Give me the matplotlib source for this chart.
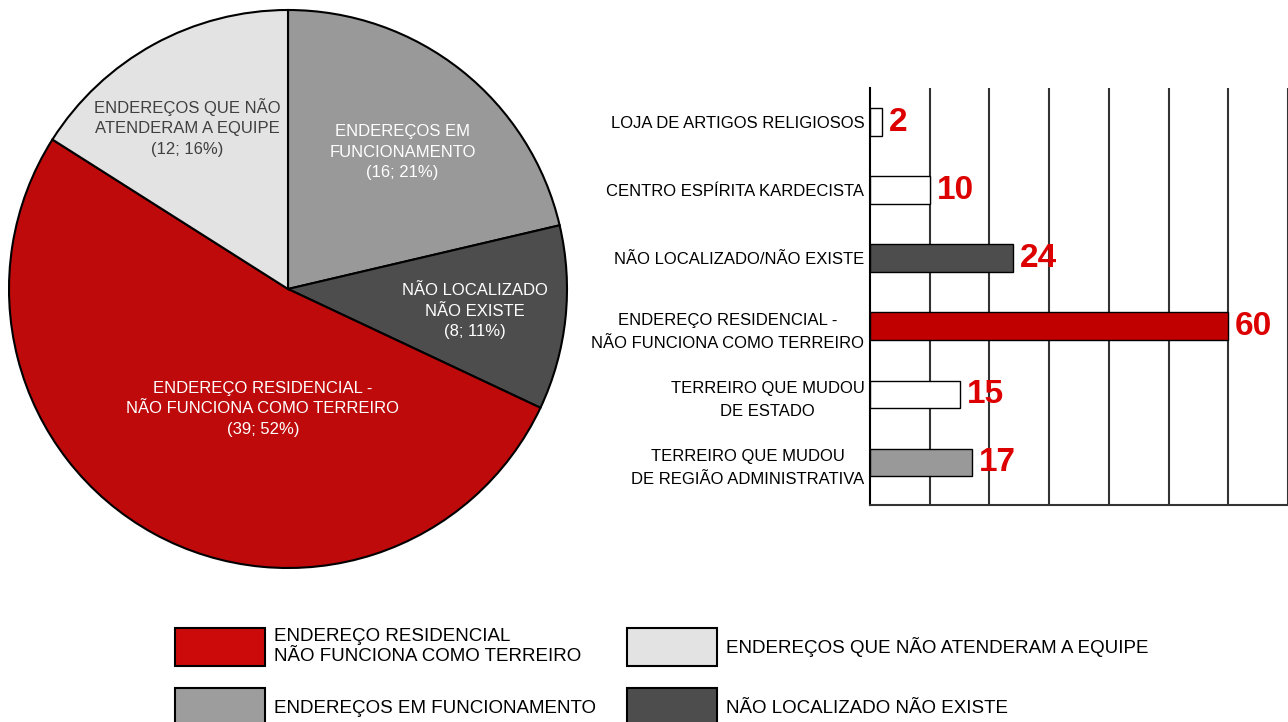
import matplotlib
matplotlib.use("Agg")
import matplotlib.pyplot as plt
from matplotlib.patches import Patch

# pie data (clockwise from the top)
pie_labels = ["ENDEREÇOS EM\nFUNCIONAMENTO", "NÃO LOCALIZADO\nNÃO EXISTE",
              "ENDEREÇO RESIDENCIAL -\nNÃO FUNCIONA COMO TERREIRO",
              "ENDEREÇOS QUE NÃO\nATENDERAM A EQUIPE"]
pie_values = [16, 8, 39, 12]
pie_colors = ["#999999", "#4d4d4d", "#be0a0a", "#e3e3e3"]
pie_text_colors = ["white", "white", "white", "#404040"]
pie_text_pos = [(0.41, 0.49), (0.67, -0.08), (-0.09, -0.43), (-0.36, 0.58)]

legend_labels = ["ENDEREÇO RESIDENCIAL\nNÃO FUNCIONA COMO TERREIRO",
                 "ENDEREÇOS EM FUNCIONAMENTO",
                 "ENDEREÇOS QUE NÃO ATENDERAM A EQUIPE",
                 "NÃO LOCALIZADO NÃO EXISTE"]
legend_colors = ["#cc0a0a", "#9d9d9d", "#e3e3e3", "#4d4d4d"]

# bar data (top to bottom)
bar_labels = ["LOJA DE ARTIGOS RELIGIOSOS", "CENTRO ESPÍRITA KARDECISTA",
              "NÃO LOCALIZADO/NÃO EXISTE",
              "ENDEREÇO RESIDENCIAL -\nNÃO FUNCIONA COMO TERREIRO",
              "TERREIRO QUE MUDOU\nDE ESTADO",
              "TERREIRO QUE MUDOU\nDE REGIÃO ADMINISTRATIVA"]
bar_values = [2, 10, 24, 60, 15, 17]
bar_colors = ["white", "white", "#4d4d4d", "#c00000", "white", "#999999"]

regular = ["Liberation Sans", "DejaVu Sans"]

fig = plt.figure(figsize=(12.88, 7.22), dpi=100)

# ---- pie ----
ax_pie = fig.add_axes([9 / 1288, 154 / 722, 558 / 1288, 558 / 722])
wedges, _ = ax_pie.pie(pie_values, colors=pie_colors, startangle=90, counterclock=False,
                       wedgeprops=dict(edgecolor="black", linewidth=1.5))
for w in wedges:
    w.set_clip_on(False)
ax_pie.set_xlim(-1, 1)
ax_pie.set_ylim(-1, 1)
ax_pie.set_aspect("equal")
total = sum(pie_values)
for lab, v, (tx, ty), c in zip(pie_labels, pie_values, pie_text_pos, pie_text_colors):
    txt = f"{lab}\n({v}; {round(v / total * 100)}%)"
    ax_pie.text(tx, ty, txt, ha="center", va="center", color=c, fontsize=12,
                family=regular, linespacing=1.45, multialignment="center")

# ---- bars ----
ax = fig.add_axes([870 / 1288, 217 / 722, 418 / 1288, 417 / 722])
ypos = list(range(len(bar_values)))
ax.barh(ypos, bar_values, height=0.4, color=bar_colors, edgecolor="black", linewidth=1, zorder=3)
ax.set_xlim(0, 70)
ax.set_ylim(5.63, -0.5)
ax.set_xticks(range(10, 71, 10))
ax.xaxis.grid(True, color="#333333", linewidth=1.5)
ax.set_axisbelow(True)
ax.tick_params(axis="x", length=0, labelbottom=False)
ax.tick_params(axis="y", length=0, pad=4)
ax.set_yticks(ypos)
ax.set_yticklabels(bar_labels, fontsize=12, family=regular, multialignment="center",
                   linespacing=1.7)
for s in ["top", "right"]:
    ax.spines[s].set_visible(False)
ax.spines["left"].set_linewidth(1.5)
ax.spines["bottom"].set_linewidth(1.5)
ax.spines["bottom"].set_color("#333333")
for y, v in zip(ypos, bar_values):
    ax.annotate(str(v), (v, y), xytext=(5, 0), textcoords="offset points",
                ha="left", va="center", color="#dd0000", fontsize=24,
                fontweight="bold", family=regular, zorder=4)

# ---- legend (one entry per block so columns line up) ----
anchors = [(175 / 1288, 1 - 647 / 722), (175 / 1288, 1 - 707 / 722),
           (627 / 1288, 1 - 647 / 722), (627 / 1288, 1 - 707 / 722)]
for lab, col, anc in zip(legend_labels, legend_colors, anchors):
    h = Patch(facecolor=col, edgecolor="black", linewidth=1.5)
    fig.legend([h], [lab], loc="center left", bbox_to_anchor=anc, frameon=False,
               borderpad=0, borderaxespad=0, handlelength=4.8, handleheight=2.74,
               handletextpad=0.5, prop=dict(family=regular, size=13.5))

fig.savefig("out.png", dpi=100)
